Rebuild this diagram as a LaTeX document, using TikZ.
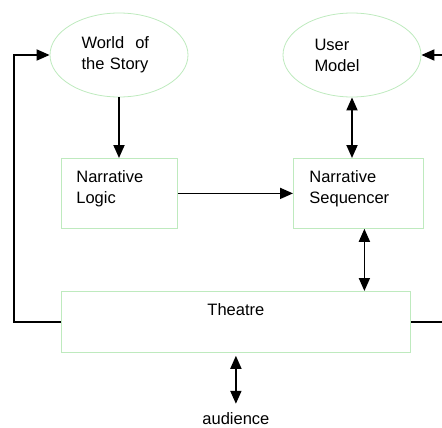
\documentclass[tikz,border=0pt]{standalone}
\usepackage{fontspec}
\setmainfont{Liberation Sans}
\usetikzlibrary{
	shapes.geometric,
	positioning,
	arrows.meta
}
\definecolor{palegreen}{RGB}{190,234,190}

\begin{document}
\begin{tikzpicture}[x=1pt,y=-1pt,
		>={Triangle[length=13pt,width=11pt]},
		font=\fontsize{16.5}{21}\selectfont,
		blob/.style={ellipse,draw=palegreen,line width=0.8pt,minimum width=138pt,
			minimum height=84pt,inner sep=0pt,text width=75pt,align=left},
		block/.style={rectangle,draw=palegreen,line width=0.8pt,anchor=north west,
			inner ysep=0pt,text height=24pt,align=left},
		link/.style={line width=1.8pt}
	]
		\useasboundingbox (0,0) rectangle (442,428);
		\draw
			node[blob] (world) at (119,55) {World\ \ of\\the Story}
			node[blob] (user)  at (352,55) {User\\Model}

			node[block,inner xsep=15pt,text width=86pt,text depth=46pt] (logic) at (61,158) {Narrative\\Logic}
			node[block,inner xsep=16pt,text width=98pt,text depth=46pt] (seq)   at (293,158) {Narrative\\Sequencer}
			node[block,inner xsep=0pt,text width=349pt,text depth=37pt,align=center] (theatre) at (61,291) {Theatre}

			node[below=60pt of theatre,inner sep=0pt] (audience) {audience}
		;

		\coordinate (lturn) at (14,55);
		\coordinate (redge) at (442,55);

		\draw[link,->]  (world.south) -- (logic.north -| world.south);
		\draw[link,->]  (logic.east) -- (seq.west |- logic.east);
		\draw[link,<->] (user.south) -- (seq.north -| user.south);
		\draw[link,<->] ([xshift=6pt]seq.south) -- ([xshift=6pt]seq.south |- theatre.north);
		\draw[link,<->,shorten <=3pt,shorten >=9pt] (theatre.south) -- (audience.north);

		% feedback round the outside
		\draw[link,->] (theatre.west) -| (lturn) -- (world.west);
		\draw[link] (theatre.east) -- (theatre.east -| redge);
		\draw[link,->] (redge) -- (user.east);
	\end{tikzpicture}
\end{document}
